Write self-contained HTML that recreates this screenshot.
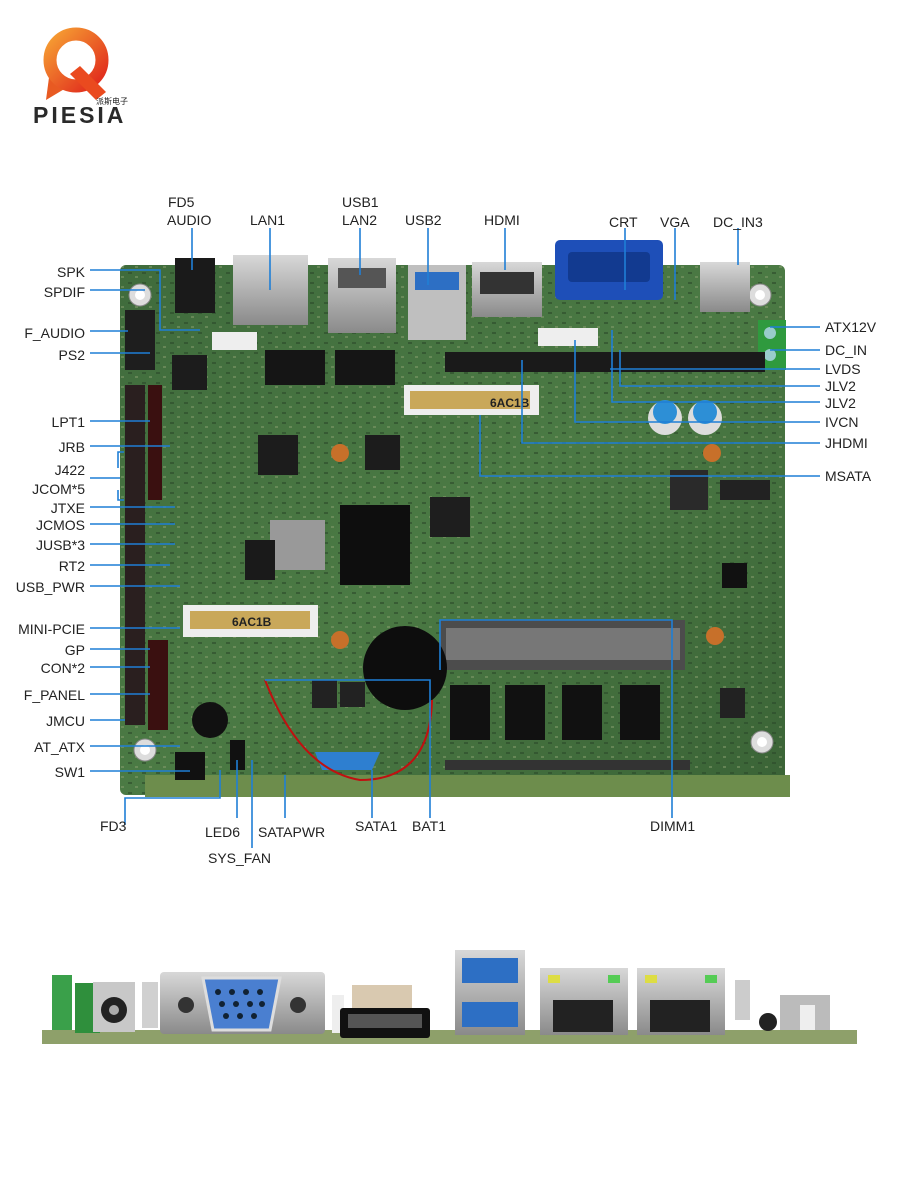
<!DOCTYPE html>
<html><head><meta charset="utf-8"><style>
html,body{margin:0;padding:0;background:#fff;}
svg{display:block}
text{font-family:"Liberation Sans",sans-serif;font-size:14px;fill:#222}
</style></head><body>
<svg width="900" height="1200" viewBox="0 0 900 1200" xmlns="http://www.w3.org/2000/svg">
<defs>
<linearGradient id="lg" x1="0" y1="0" x2="1" y2="1"><stop offset="0" stop-color="#f6a033"/><stop offset="1" stop-color="#e0261c"/></linearGradient>
<linearGradient id="bd" x1="0" y1="0" x2="1" y2="1"><stop offset="0" stop-color="#3f6b3c"/><stop offset="0.5" stop-color="#4b7a44"/><stop offset="1" stop-color="#3a6336"/></linearGradient>
<linearGradient id="met" x1="0" y1="0" x2="0" y2="1"><stop offset="0" stop-color="#d8d8d8"/><stop offset="1" stop-color="#8a8a8a"/></linearGradient>
<pattern id="tex" width="14" height="10" patternUnits="userSpaceOnUse"><rect x="2" y="2" width="4" height="2" fill="#2c4a2a" opacity="0.6"/><rect x="9" y="6" width="3" height="2" fill="#8aa070" opacity="0.5"/></pattern>
</defs>
<path d="M50 70 L46 100 L66 88 Z" fill="#e85a22"/>
<circle cx="76" cy="60" r="26" fill="none" stroke="url(#lg)" stroke-width="13"/>
<path d="M80 66 L106 92 L96 100 L70 74 Z" fill="#ea4a1f"/>
<text x="33" y="123" style="font-size:23px;font-weight:bold;letter-spacing:3px;fill:#2a2a2a">PIESIA</text>
<text x="96" y="104" style="font-size:8px;fill:#222">派斯电子</text>

<rect x="120" y="265" width="665" height="530" rx="6" fill="url(#bd)"/>
<rect x="120" y="265" width="665" height="530" rx="6" fill="url(#tex)"/>
<rect x="145" y="775" width="645" height="22" fill="#6d8d4c"/>
<circle cx="140" cy="295" r="11" fill="#ddd" stroke="#888"/><circle cx="140" cy="295" r="5" fill="#fff"/>
<circle cx="760" cy="295" r="11" fill="#ddd" stroke="#888"/><circle cx="760" cy="295" r="5" fill="#fff"/>
<circle cx="145" cy="750" r="11" fill="#ddd" stroke="#888"/><circle cx="145" cy="750" r="5" fill="#fff"/>
<circle cx="762" cy="742" r="11" fill="#ddd" stroke="#888"/><circle cx="762" cy="742" r="5" fill="#fff"/>
<circle cx="340" cy="453" r="9" fill="#c7702a"/><circle cx="712" cy="453" r="9" fill="#c7702a"/>
<circle cx="340" cy="640" r="9" fill="#c7702a"/><circle cx="715" cy="636" r="9" fill="#c7702a"/>
<rect x="175" y="258" width="40" height="55" fill="#1a1a1a"/>
<rect x="233" y="255" width="75" height="70" fill="url(#met)"/>
<rect x="328" y="258" width="68" height="75" fill="url(#met)"/><rect x="338" y="268" width="48" height="20" fill="#555"/>
<rect x="408" y="265" width="58" height="75" fill="#bfbfbf"/><rect x="415" y="272" width="44" height="18" fill="#2d6fc4"/>
<rect x="472" y="262" width="70" height="55" fill="url(#met)"/><rect x="480" y="272" width="54" height="22" fill="#333"/>
<rect x="555" y="240" width="108" height="60" rx="5" fill="#1e4fb8"/><rect x="568" y="252" width="82" height="30" rx="4" fill="#123a90"/>
<rect x="700" y="262" width="50" height="50" fill="url(#met)"/>
<rect x="758" y="320" width="28" height="50" fill="#2f9a3e"/>
<circle cx="770" cy="333" r="6" fill="#9cc"/><circle cx="770" cy="355" r="6" fill="#9cc"/>
<rect x="125" y="385" width="20" height="340" fill="#2a1f1f"/>
<rect x="148" y="385" width="14" height="115" fill="#3a1010"/>
<rect x="148" y="640" width="20" height="90" fill="#3a1010"/>
<rect x="125" y="310" width="30" height="60" fill="#1e1e1e"/>
<rect x="445" y="352" width="320" height="20" fill="#1a1a1a"/>
<rect x="265" y="350" width="60" height="35" fill="#151515"/><rect x="335" y="350" width="60" height="35" fill="#151515"/>
<rect x="258" y="435" width="40" height="40" fill="#1c1c1c"/><rect x="365" y="435" width="35" height="35" fill="#1c1c1c"/>
<rect x="340" y="505" width="70" height="80" fill="#0e0e0e"/>
<rect x="270" y="520" width="55" height="50" fill="#999"/>
<rect x="245" y="540" width="30" height="40" fill="#1a1a1a"/>
<rect x="172" y="355" width="35" height="35" fill="#1c1c1c"/>
<rect x="404" y="385" width="135" height="30" fill="#eee"/><rect x="410" y="391" width="120" height="18" fill="#c9a85a"/>
<text x="490" y="407" style="font-size:12px;font-weight:bold">6AC1B</text>
<rect x="183" y="605" width="135" height="32" fill="#eee"/><rect x="190" y="611" width="120" height="18" fill="#c9a85a"/>
<text x="232" y="626" style="font-size:12px;font-weight:bold">6AC1B</text>
<rect x="440" y="620" width="245" height="50" fill="#4c4c4c"/><rect x="446" y="628" width="234" height="32" fill="#777"/>
<rect x="450" y="685" width="40" height="55" fill="#111"/><rect x="505" y="685" width="40" height="55" fill="#111"/>
<rect x="562" y="685" width="40" height="55" fill="#111"/><rect x="620" y="685" width="40" height="55" fill="#111"/>
<rect x="445" y="760" width="245" height="10" fill="#333"/>
<circle cx="405" cy="668" r="42" fill="#0d0d0d"/>
<circle cx="665" cy="418" r="17" fill="#ddd"/><circle cx="705" cy="418" r="17" fill="#ddd"/>
<circle cx="665" cy="412" r="12" fill="#2d8fd6"/><circle cx="705" cy="412" r="12" fill="#2d8fd6"/>
<rect x="670" y="470" width="38" height="40" fill="#2a2a2a"/><rect x="720" y="480" width="50" height="20" fill="#222"/>
<rect x="722" y="563" width="25" height="25" fill="#111"/><rect x="720" y="688" width="25" height="30" fill="#222"/>
<rect x="430" y="497" width="40" height="40" fill="#1e1e1e"/>
<rect x="312" y="680" width="25" height="28" fill="#222"/><rect x="340" y="682" width="25" height="25" fill="#222"/>
<circle cx="210" cy="720" r="18" fill="#111"/>
<rect x="175" y="752" width="30" height="28" fill="#111"/><rect x="230" y="740" width="15" height="30" fill="#111"/>
<path d="M315 752 L380 752 L372 770 L322 770 Z" fill="#2e7fd0"/>
<path d="M265 680 Q300 770 360 780 Q430 780 432 700" fill="none" stroke="#c01010" stroke-width="2"/>
<rect x="538" y="328" width="60" height="18" fill="#eee"/><rect x="212" y="332" width="45" height="18" fill="#eee"/>

<g stroke="#1f7fd6" stroke-width="1.6" fill="none">
<path d="M192 228 V270"/><path d="M270 228 V290"/><path d="M360 228 V275"/><path d="M428 228 V285"/><path d="M505 228 V270"/>
<path d="M625 228 V290"/><path d="M675 228 V300"/><path d="M738 228 V265"/>
<path d="M90 270 H160 V330 H200"/><path d="M90 290 H145"/><path d="M90 331 H128"/><path d="M90 353 H150"/>
<path d="M90 421 H150"/><path d="M90 446 H170"/><path d="M118 468 V452 H124"/><path d="M90 478 H120"/><path d="M118 490 V500 H124"/>
<path d="M90 507 H175"/><path d="M90 524 H175"/><path d="M90 544 H175"/><path d="M90 565 H170"/><path d="M90 586 H180"/>
<path d="M90 628 H180"/><path d="M90 649 H150"/><path d="M90 667 H150"/><path d="M90 694 H150"/><path d="M90 720 H125"/>
<path d="M90 746 H180"/><path d="M90 771 H190"/>
<path d="M125 825 V798 H220 V770"/><path d="M237 818 V760"/><path d="M252 848 V760"/><path d="M285 818 V775"/>
<path d="M372 818 V770"/><path d="M430 818 V680 H265"/><path d="M672 818 V620 H440 V670"/>
<path d="M770 327 H820"/><path d="M770 350 H820"/><path d="M610 369 H820"/><path d="M620 350 V386 H820"/>
<path d="M612 330 V402 H820"/><path d="M575 340 V422 H820"/><path d="M522 360 V443 H820"/><path d="M480 415 V476 H820"/>
</g>

<g>
<text x="168" y="207">FD5</text><text x="167" y="225">AUDIO</text><text x="250" y="225">LAN1</text>
<text x="342" y="207">USB1</text><text x="342" y="225">LAN2</text><text x="405" y="225">USB2</text>
<text x="484" y="225">HDMI</text><text x="609" y="227">CRT</text><text x="660" y="227">VGA</text><text x="713" y="227">DC_IN3</text>
</g>
<g text-anchor="end">
<text x="85" y="277">SPK</text><text x="85" y="297">SPDIF</text><text x="85" y="338">F_AUDIO</text><text x="85" y="360">PS2</text>
<text x="85" y="427">LPT1</text><text x="85" y="452">JRB</text><text x="85" y="475">J422</text><text x="85" y="494">JCOM*5</text>
<text x="85" y="513">JTXE</text><text x="85" y="530">JCMOS</text><text x="85" y="550">JUSB*3</text><text x="85" y="571">RT2</text>
<text x="85" y="592">USB_PWR</text><text x="85" y="634">MINI-PCIE</text><text x="85" y="655">GP</text><text x="85" y="673">CON*2</text>
<text x="85" y="700">F_PANEL</text><text x="85" y="726">JMCU</text><text x="85" y="752">AT_ATX</text><text x="85" y="777">SW1</text>
</g>
<g>
<text x="825" y="332">ATX12V</text><text x="825" y="355">DC_IN</text><text x="825" y="374">LVDS</text><text x="825" y="391">JLV2</text>
<text x="825" y="408">JLV2</text><text x="825" y="427">IVCN</text><text x="825" y="448">JHDMI</text><text x="825" y="481">MSATA</text>
<text x="100" y="831">FD3</text><text x="205" y="837">LED6</text><text x="258" y="837">SATAPWR</text><text x="355" y="831">SATA1</text>
<text x="412" y="831">BAT1</text><text x="650" y="831">DIMM1</text><text x="208" y="863">SYS_FAN</text>
</g>

<rect x="42" y="1030" width="815" height="14" fill="#8ea06a"/>
<rect x="52" y="975" width="20" height="55" fill="#3aa04a"/>
<rect x="75" y="983" width="25" height="50" fill="#2f8f3c"/>
<rect x="93" y="982" width="42" height="50" fill="#c8c8c8"/><circle cx="114" cy="1010" r="13" fill="#222"/><circle cx="114" cy="1010" r="5" fill="#aaa"/>
<rect x="142" y="982" width="16" height="46" fill="#d0d0d0"/>
<rect x="160" y="972" width="165" height="62" rx="4" fill="url(#met)"/>
<path d="M203 978 H280 L270 1030 H213 Z" fill="#4a7fd0" stroke="#ddd" stroke-width="3"/>
<g fill="#123">
<circle cx="218" cy="992" r="3"/><circle cx="232" cy="992" r="3"/><circle cx="246" cy="992" r="3"/><circle cx="260" cy="992" r="3"/>
<circle cx="222" cy="1004" r="3"/><circle cx="236" cy="1004" r="3"/><circle cx="250" cy="1004" r="3"/><circle cx="262" cy="1004" r="3"/>
<circle cx="226" cy="1016" r="3"/><circle cx="240" cy="1016" r="3"/><circle cx="254" cy="1016" r="3"/>
</g>
<circle cx="186" cy="1005" r="8" fill="#333"/><circle cx="298" cy="1005" r="8" fill="#333"/>
<rect x="332" y="995" width="12" height="38" fill="#eee"/>
<rect x="352" y="985" width="60" height="25" fill="#d9c9b0"/>
<rect x="340" y="1008" width="90" height="30" rx="3" fill="#111"/><rect x="348" y="1014" width="74" height="14" fill="#555"/>
<rect x="455" y="950" width="70" height="85" fill="url(#met)"/>
<rect x="462" y="958" width="56" height="25" fill="#2d6fc4"/><rect x="462" y="1002" width="56" height="25" fill="#2d6fc4"/>
<rect x="540" y="968" width="88" height="67" fill="url(#met)"/><rect x="553" y="1000" width="60" height="32" fill="#222"/>
<rect x="548" y="975" width="12" height="8" fill="#dd4"/><rect x="608" y="975" width="12" height="8" fill="#5c5"/>
<rect x="637" y="968" width="88" height="67" fill="url(#met)"/><rect x="650" y="1000" width="60" height="32" fill="#222"/>
<rect x="645" y="975" width="12" height="8" fill="#dd4"/><rect x="705" y="975" width="12" height="8" fill="#5c5"/>
<rect x="735" y="980" width="15" height="40" fill="#ccc"/>
<circle cx="768" cy="1022" r="9" fill="#222"/>
<rect x="780" y="995" width="50" height="35" fill="#bbb"/><rect x="800" y="1005" width="15" height="25" fill="#eee"/>
</svg>
</body></html>
